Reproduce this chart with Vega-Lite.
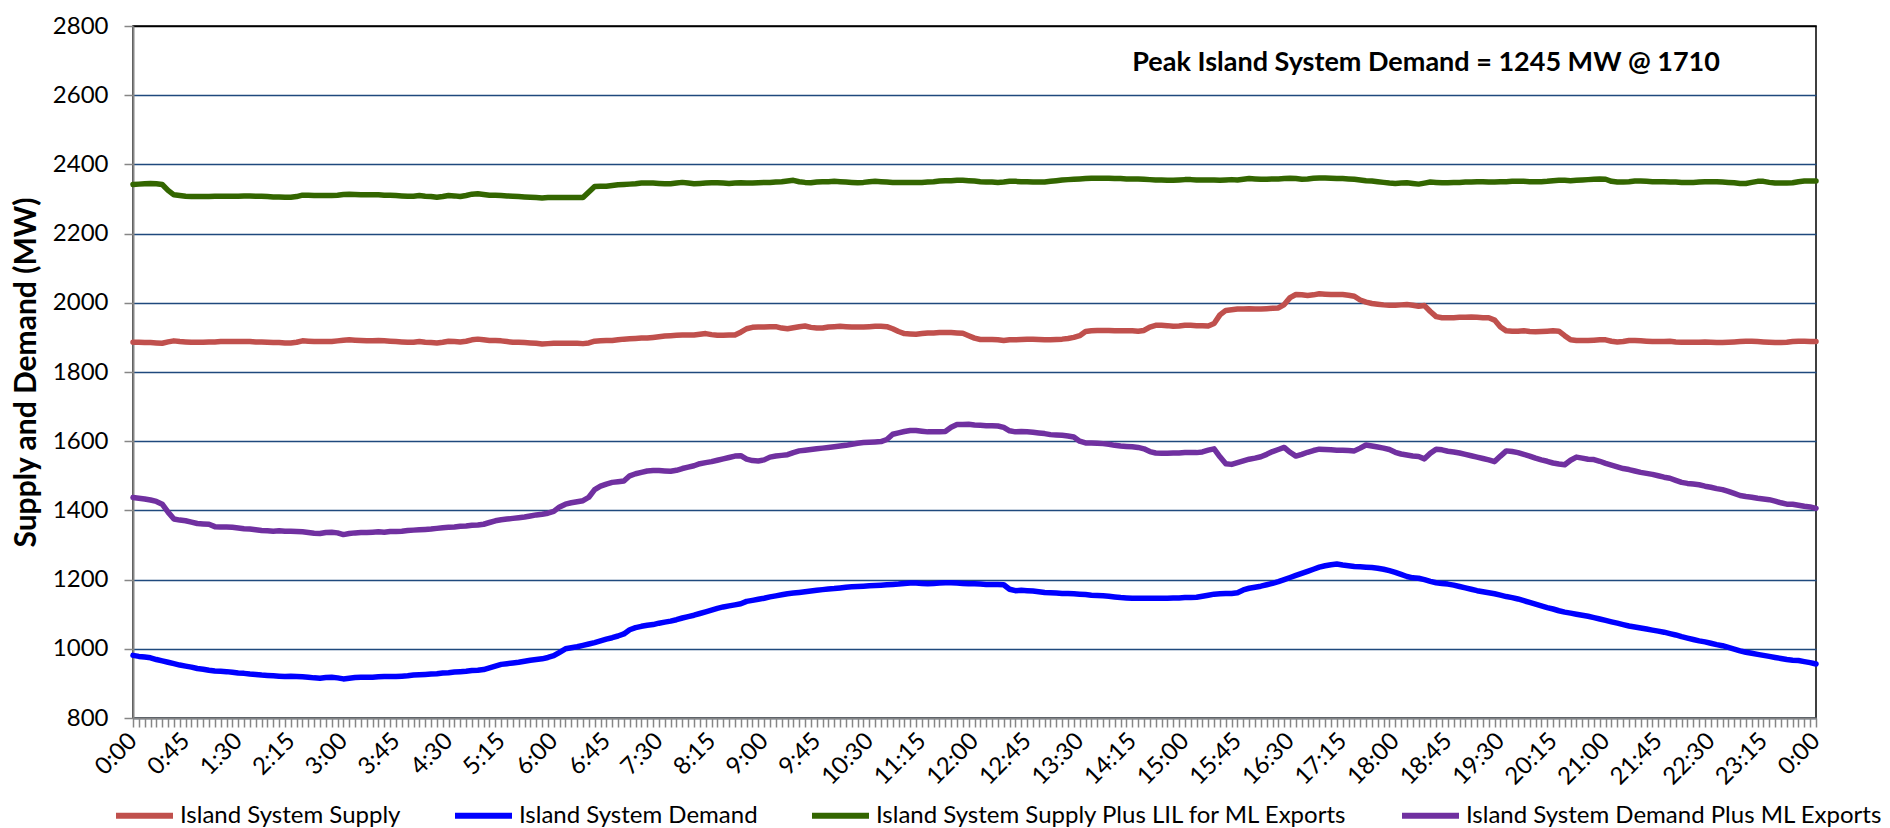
{
  "$schema": "https://vega.github.io/schema/vega-lite/v6.json",
  "width": 1683,
  "height": 692,
  "autosize": "none",
  "padding": {"left": 133, "top": 26, "right": 74, "bottom": 110},
  "background": "white",
  "config": {
    "font": "Lato",
    "view": {"stroke": "#000000", "strokeWidth": 1.5}
  },
  "layer": [
    {
      "data": {"values": [
{"m":0,"s":1886,"d":981,"g":2342,"p":1437},
{"m":5,"s":1886,"d":978,"g":2343,"p":1435},
{"m":10,"s":1885,"d":976,"g":2344,"p":1433},
{"m":15,"s":1885,"d":974,"g":2345,"p":1430},
{"m":20,"s":1884,"d":969,"g":2344,"p":1426},
{"m":25,"s":1883,"d":965,"g":2342,"p":1418},
{"m":30,"s":1887,"d":961,"g":2325,"p":1395},
{"m":35,"s":1890,"d":957,"g":2312,"p":1375},
{"m":40,"s":1888,"d":953,"g":2310,"p":1372},
{"m":45,"s":1887,"d":950,"g":2308,"p":1370},
{"m":50,"s":1886,"d":947,"g":2307,"p":1366},
{"m":55,"s":1886,"d":943,"g":2307,"p":1362},
{"m":60,"s":1886,"d":941,"g":2307,"p":1361},
{"m":65,"s":1887,"d":938,"g":2307,"p":1360},
{"m":70,"s":1887,"d":936,"g":2308,"p":1353},
{"m":75,"s":1888,"d":935,"g":2308,"p":1352},
{"m":80,"s":1888,"d":934,"g":2308,"p":1352},
{"m":85,"s":1888,"d":932,"g":2308,"p":1351},
{"m":90,"s":1888,"d":930,"g":2308,"p":1349},
{"m":95,"s":1888,"d":929,"g":2309,"p":1347},
{"m":100,"s":1888,"d":927,"g":2309,"p":1346},
{"m":105,"s":1887,"d":926,"g":2308,"p":1344},
{"m":110,"s":1887,"d":924,"g":2308,"p":1342},
{"m":115,"s":1886,"d":923,"g":2307,"p":1341},
{"m":120,"s":1885,"d":922,"g":2306,"p":1340},
{"m":125,"s":1885,"d":921,"g":2306,"p":1341},
{"m":130,"s":1884,"d":920,"g":2305,"p":1340},
{"m":135,"s":1884,"d":921,"g":2305,"p":1340},
{"m":140,"s":1886,"d":920,"g":2307,"p":1339},
{"m":145,"s":1890,"d":919,"g":2311,"p":1338},
{"m":150,"s":1889,"d":918,"g":2311,"p":1336},
{"m":155,"s":1888,"d":916,"g":2310,"p":1334},
{"m":160,"s":1888,"d":915,"g":2310,"p":1333},
{"m":165,"s":1888,"d":917,"g":2310,"p":1336},
{"m":170,"s":1888,"d":918,"g":2310,"p":1337},
{"m":175,"s":1890,"d":916,"g":2311,"p":1335},
{"m":180,"s":1892,"d":913,"g":2313,"p":1330},
{"m":185,"s":1893,"d":915,"g":2314,"p":1333},
{"m":190,"s":1892,"d":917,"g":2313,"p":1335},
{"m":195,"s":1891,"d":918,"g":2312,"p":1336},
{"m":200,"s":1890,"d":918,"g":2312,"p":1336},
{"m":205,"s":1890,"d":918,"g":2312,"p":1337},
{"m":210,"s":1891,"d":919,"g":2312,"p":1338},
{"m":215,"s":1890,"d":920,"g":2311,"p":1337},
{"m":220,"s":1889,"d":920,"g":2311,"p":1339},
{"m":225,"s":1888,"d":920,"g":2310,"p":1339},
{"m":230,"s":1887,"d":921,"g":2309,"p":1340},
{"m":235,"s":1886,"d":922,"g":2308,"p":1342},
{"m":240,"s":1886,"d":924,"g":2308,"p":1343},
{"m":245,"s":1888,"d":925,"g":2310,"p":1344},
{"m":250,"s":1886,"d":926,"g":2308,"p":1345},
{"m":255,"s":1885,"d":927,"g":2307,"p":1346},
{"m":260,"s":1884,"d":928,"g":2305,"p":1348},
{"m":265,"s":1886,"d":930,"g":2307,"p":1350},
{"m":270,"s":1889,"d":931,"g":2310,"p":1351},
{"m":275,"s":1888,"d":933,"g":2309,"p":1352},
{"m":280,"s":1887,"d":934,"g":2307,"p":1354},
{"m":285,"s":1889,"d":935,"g":2310,"p":1355},
{"m":290,"s":1893,"d":937,"g":2314,"p":1357},
{"m":295,"s":1895,"d":938,"g":2315,"p":1358},
{"m":300,"s":1893,"d":940,"g":2313,"p":1360},
{"m":305,"s":1891,"d":945,"g":2311,"p":1365},
{"m":310,"s":1891,"d":950,"g":2311,"p":1370},
{"m":315,"s":1890,"d":955,"g":2310,"p":1373},
{"m":320,"s":1888,"d":957,"g":2309,"p":1375},
{"m":325,"s":1886,"d":959,"g":2308,"p":1377},
{"m":330,"s":1886,"d":961,"g":2307,"p":1379},
{"m":335,"s":1885,"d":964,"g":2306,"p":1381},
{"m":340,"s":1884,"d":967,"g":2305,"p":1384},
{"m":345,"s":1883,"d":969,"g":2304,"p":1387},
{"m":350,"s":1881,"d":971,"g":2303,"p":1389},
{"m":355,"s":1882,"d":975,"g":2304,"p":1392},
{"m":360,"s":1883,"d":980,"g":2304,"p":1397},
{"m":365,"s":1883,"d":990,"g":2304,"p":1410},
{"m":370,"s":1883,"d":1000,"g":2304,"p":1418},
{"m":375,"s":1883,"d":1003,"g":2304,"p":1422},
{"m":380,"s":1883,"d":1006,"g":2304,"p":1425},
{"m":385,"s":1882,"d":1010,"g":2304,"p":1428},
{"m":390,"s":1884,"d":1014,"g":2320,"p":1438},
{"m":395,"s":1889,"d":1018,"g":2336,"p":1460},
{"m":400,"s":1890,"d":1023,"g":2337,"p":1470},
{"m":405,"s":1891,"d":1028,"g":2337,"p":1476},
{"m":410,"s":1891,"d":1032,"g":2339,"p":1481},
{"m":415,"s":1893,"d":1037,"g":2341,"p":1483},
{"m":420,"s":1895,"d":1043,"g":2342,"p":1485},
{"m":425,"s":1896,"d":1055,"g":2343,"p":1500},
{"m":430,"s":1897,"d":1061,"g":2344,"p":1506},
{"m":435,"s":1898,"d":1065,"g":2346,"p":1510},
{"m":440,"s":1898,"d":1068,"g":2346,"p":1514},
{"m":445,"s":1900,"d":1070,"g":2346,"p":1515},
{"m":450,"s":1902,"d":1074,"g":2345,"p":1515},
{"m":455,"s":1904,"d":1077,"g":2344,"p":1514},
{"m":460,"s":1905,"d":1080,"g":2344,"p":1513},
{"m":465,"s":1906,"d":1084,"g":2346,"p":1516},
{"m":470,"s":1907,"d":1089,"g":2348,"p":1521},
{"m":475,"s":1907,"d":1093,"g":2346,"p":1525},
{"m":480,"s":1907,"d":1097,"g":2344,"p":1529},
{"m":485,"s":1909,"d":1102,"g":2345,"p":1535},
{"m":490,"s":1911,"d":1107,"g":2346,"p":1538},
{"m":495,"s":1908,"d":1112,"g":2347,"p":1541},
{"m":500,"s":1906,"d":1117,"g":2347,"p":1545},
{"m":505,"s":1906,"d":1121,"g":2346,"p":1549},
{"m":510,"s":1907,"d":1124,"g":2345,"p":1553},
{"m":515,"s":1907,"d":1127,"g":2346,"p":1557},
{"m":520,"s":1915,"d":1130,"g":2347,"p":1558},
{"m":525,"s":1925,"d":1137,"g":2346,"p":1548},
{"m":530,"s":1929,"d":1140,"g":2346,"p":1544},
{"m":535,"s":1930,"d":1143,"g":2347,"p":1543},
{"m":540,"s":1930,"d":1146,"g":2348,"p":1546},
{"m":545,"s":1931,"d":1150,"g":2348,"p":1554},
{"m":550,"s":1931,"d":1153,"g":2349,"p":1557},
{"m":555,"s":1927,"d":1156,"g":2350,"p":1559},
{"m":560,"s":1925,"d":1159,"g":2352,"p":1561},
{"m":565,"s":1928,"d":1161,"g":2354,"p":1567},
{"m":570,"s":1931,"d":1163,"g":2350,"p":1572},
{"m":575,"s":1933,"d":1165,"g":2348,"p":1574},
{"m":580,"s":1929,"d":1167,"g":2347,"p":1576},
{"m":585,"s":1927,"d":1169,"g":2349,"p":1578},
{"m":590,"s":1927,"d":1171,"g":2350,"p":1580},
{"m":595,"s":1930,"d":1173,"g":2350,"p":1582},
{"m":600,"s":1931,"d":1174,"g":2351,"p":1584},
{"m":605,"s":1932,"d":1176,"g":2350,"p":1586},
{"m":610,"s":1931,"d":1178,"g":2349,"p":1588},
{"m":615,"s":1930,"d":1179,"g":2348,"p":1591},
{"m":620,"s":1930,"d":1180,"g":2347,"p":1594},
{"m":625,"s":1930,"d":1181,"g":2348,"p":1596},
{"m":630,"s":1931,"d":1182,"g":2350,"p":1597},
{"m":635,"s":1932,"d":1183,"g":2351,"p":1598},
{"m":640,"s":1932,"d":1184,"g":2350,"p":1599},
{"m":645,"s":1931,"d":1185,"g":2349,"p":1605},
{"m":650,"s":1925,"d":1186,"g":2348,"p":1620},
{"m":655,"s":1917,"d":1187,"g":2348,"p":1624},
{"m":660,"s":1911,"d":1189,"g":2348,"p":1628},
{"m":665,"s":1910,"d":1190,"g":2348,"p":1631},
{"m":670,"s":1909,"d":1190,"g":2348,"p":1631},
{"m":675,"s":1911,"d":1189,"g":2348,"p":1629},
{"m":680,"s":1913,"d":1188,"g":2349,"p":1627},
{"m":685,"s":1913,"d":1189,"g":2350,"p":1627},
{"m":690,"s":1914,"d":1190,"g":2352,"p":1627},
{"m":695,"s":1914,"d":1191,"g":2353,"p":1628},
{"m":700,"s":1914,"d":1191,"g":2353,"p":1640},
{"m":705,"s":1913,"d":1190,"g":2354,"p":1648},
{"m":710,"s":1912,"d":1189,"g":2354,"p":1648},
{"m":715,"s":1905,"d":1188,"g":2353,"p":1649},
{"m":720,"s":1898,"d":1188,"g":2352,"p":1647},
{"m":725,"s":1894,"d":1187,"g":2350,"p":1646},
{"m":730,"s":1894,"d":1186,"g":2349,"p":1645},
{"m":735,"s":1894,"d":1186,"g":2349,"p":1645},
{"m":740,"s":1893,"d":1186,"g":2348,"p":1644},
{"m":745,"s":1891,"d":1185,"g":2349,"p":1640},
{"m":750,"s":1893,"d":1172,"g":2351,"p":1630},
{"m":755,"s":1893,"d":1168,"g":2351,"p":1627},
{"m":760,"s":1894,"d":1169,"g":2350,"p":1628},
{"m":765,"s":1895,"d":1168,"g":2350,"p":1627},
{"m":770,"s":1895,"d":1167,"g":2349,"p":1626},
{"m":775,"s":1894,"d":1165,"g":2349,"p":1624},
{"m":780,"s":1893,"d":1163,"g":2349,"p":1622},
{"m":785,"s":1893,"d":1162,"g":2351,"p":1619},
{"m":790,"s":1894,"d":1161,"g":2353,"p":1618},
{"m":795,"s":1895,"d":1160,"g":2355,"p":1617},
{"m":800,"s":1897,"d":1160,"g":2356,"p":1615},
{"m":805,"s":1900,"d":1159,"g":2357,"p":1612},
{"m":810,"s":1905,"d":1158,"g":2358,"p":1600},
{"m":815,"s":1917,"d":1157,"g":2359,"p":1595},
{"m":820,"s":1919,"d":1155,"g":2360,"p":1595},
{"m":825,"s":1920,"d":1154,"g":2360,"p":1594},
{"m":830,"s":1920,"d":1153,"g":2360,"p":1593},
{"m":835,"s":1920,"d":1152,"g":2360,"p":1591},
{"m":840,"s":1919,"d":1150,"g":2359,"p":1588},
{"m":845,"s":1919,"d":1148,"g":2359,"p":1586},
{"m":850,"s":1919,"d":1147,"g":2358,"p":1585},
{"m":855,"s":1919,"d":1146,"g":2358,"p":1584},
{"m":860,"s":1918,"d":1146,"g":2358,"p":1582},
{"m":865,"s":1920,"d":1146,"g":2357,"p":1578},
{"m":870,"s":1930,"d":1146,"g":2356,"p":1570},
{"m":875,"s":1935,"d":1146,"g":2355,"p":1566},
{"m":880,"s":1935,"d":1146,"g":2355,"p":1565},
{"m":885,"s":1934,"d":1146,"g":2354,"p":1565},
{"m":890,"s":1932,"d":1147,"g":2354,"p":1566},
{"m":895,"s":1933,"d":1147,"g":2355,"p":1566},
{"m":900,"s":1935,"d":1148,"g":2356,"p":1567},
{"m":905,"s":1935,"d":1148,"g":2356,"p":1567},
{"m":910,"s":1934,"d":1149,"g":2355,"p":1567},
{"m":915,"s":1934,"d":1152,"g":2355,"p":1569},
{"m":920,"s":1933,"d":1155,"g":2355,"p":1574},
{"m":925,"s":1940,"d":1158,"g":2355,"p":1578},
{"m":930,"s":1965,"d":1159,"g":2354,"p":1555},
{"m":935,"s":1978,"d":1160,"g":2355,"p":1535},
{"m":940,"s":1980,"d":1160,"g":2356,"p":1533},
{"m":945,"s":1982,"d":1162,"g":2355,"p":1538},
{"m":950,"s":1982,"d":1170,"g":2357,"p":1543},
{"m":955,"s":1983,"d":1175,"g":2359,"p":1548},
{"m":960,"s":1982,"d":1178,"g":2358,"p":1551},
{"m":965,"s":1982,"d":1181,"g":2357,"p":1555},
{"m":970,"s":1983,"d":1185,"g":2357,"p":1562},
{"m":975,"s":1984,"d":1189,"g":2358,"p":1570},
{"m":980,"s":1985,"d":1194,"g":2358,"p":1576},
{"m":985,"s":1995,"d":1200,"g":2359,"p":1582},
{"m":990,"s":2015,"d":1206,"g":2360,"p":1568},
{"m":995,"s":2024,"d":1212,"g":2359,"p":1557},
{"m":1000,"s":2023,"d":1218,"g":2357,"p":1562},
{"m":1005,"s":2021,"d":1224,"g":2358,"p":1568},
{"m":1010,"s":2023,"d":1230,"g":2360,"p":1573},
{"m":1015,"s":2026,"d":1236,"g":2361,"p":1577},
{"m":1020,"s":2025,"d":1240,"g":2361,"p":1576},
{"m":1025,"s":2024,"d":1243,"g":2360,"p":1575},
{"m":1030,"s":2024,"d":1245,"g":2359,"p":1574},
{"m":1035,"s":2024,"d":1242,"g":2359,"p":1574},
{"m":1040,"s":2022,"d":1240,"g":2358,"p":1573},
{"m":1045,"s":2019,"d":1238,"g":2357,"p":1572},
{"m":1050,"s":2008,"d":1237,"g":2355,"p":1580},
{"m":1055,"s":2002,"d":1236,"g":2353,"p":1589},
{"m":1060,"s":1998,"d":1235,"g":2352,"p":1586},
{"m":1065,"s":1996,"d":1233,"g":2350,"p":1583},
{"m":1070,"s":1994,"d":1230,"g":2348,"p":1580},
{"m":1075,"s":1993,"d":1226,"g":2346,"p":1576},
{"m":1080,"s":1993,"d":1221,"g":2345,"p":1568},
{"m":1085,"s":1994,"d":1215,"g":2346,"p":1563},
{"m":1090,"s":1995,"d":1209,"g":2347,"p":1560},
{"m":1095,"s":1993,"d":1205,"g":2345,"p":1557},
{"m":1100,"s":1990,"d":1204,"g":2343,"p":1556},
{"m":1105,"s":1992,"d":1200,"g":2346,"p":1549},
{"m":1110,"s":1975,"d":1195,"g":2349,"p":1565},
{"m":1115,"s":1960,"d":1191,"g":2348,"p":1577},
{"m":1120,"s":1957,"d":1189,"g":2347,"p":1575},
{"m":1125,"s":1957,"d":1187,"g":2347,"p":1571},
{"m":1130,"s":1957,"d":1184,"g":2348,"p":1569},
{"m":1135,"s":1958,"d":1180,"g":2348,"p":1566},
{"m":1140,"s":1958,"d":1176,"g":2349,"p":1562},
{"m":1145,"s":1959,"d":1172,"g":2349,"p":1558},
{"m":1150,"s":1958,"d":1168,"g":2350,"p":1554},
{"m":1155,"s":1957,"d":1165,"g":2350,"p":1550},
{"m":1160,"s":1957,"d":1162,"g":2349,"p":1546},
{"m":1165,"s":1950,"d":1159,"g":2349,"p":1541},
{"m":1170,"s":1930,"d":1155,"g":2350,"p":1557},
{"m":1175,"s":1919,"d":1151,"g":2350,"p":1572},
{"m":1180,"s":1918,"d":1148,"g":2351,"p":1570},
{"m":1185,"s":1918,"d":1144,"g":2351,"p":1567},
{"m":1190,"s":1919,"d":1139,"g":2351,"p":1562},
{"m":1195,"s":1917,"d":1134,"g":2350,"p":1557},
{"m":1200,"s":1916,"d":1129,"g":2350,"p":1551},
{"m":1205,"s":1917,"d":1124,"g":2350,"p":1546},
{"m":1210,"s":1918,"d":1119,"g":2351,"p":1542},
{"m":1215,"s":1919,"d":1115,"g":2353,"p":1537},
{"m":1220,"s":1918,"d":1110,"g":2354,"p":1534},
{"m":1225,"s":1905,"d":1106,"g":2354,"p":1532},
{"m":1230,"s":1893,"d":1103,"g":2353,"p":1545},
{"m":1235,"s":1891,"d":1100,"g":2354,"p":1554},
{"m":1240,"s":1891,"d":1097,"g":2355,"p":1551},
{"m":1245,"s":1891,"d":1094,"g":2356,"p":1548},
{"m":1250,"s":1892,"d":1090,"g":2357,"p":1547},
{"m":1255,"s":1893,"d":1086,"g":2358,"p":1542},
{"m":1260,"s":1893,"d":1082,"g":2357,"p":1536},
{"m":1265,"s":1889,"d":1078,"g":2351,"p":1531},
{"m":1270,"s":1887,"d":1074,"g":2349,"p":1526},
{"m":1275,"s":1888,"d":1070,"g":2349,"p":1521},
{"m":1280,"s":1891,"d":1066,"g":2350,"p":1518},
{"m":1285,"s":1891,"d":1063,"g":2352,"p":1514},
{"m":1290,"s":1890,"d":1060,"g":2352,"p":1510},
{"m":1295,"s":1889,"d":1057,"g":2351,"p":1507},
{"m":1300,"s":1888,"d":1054,"g":2350,"p":1504},
{"m":1305,"s":1888,"d":1051,"g":2350,"p":1500},
{"m":1310,"s":1888,"d":1048,"g":2350,"p":1496},
{"m":1315,"s":1889,"d":1044,"g":2349,"p":1493},
{"m":1320,"s":1887,"d":1040,"g":2349,"p":1487},
{"m":1325,"s":1886,"d":1035,"g":2348,"p":1481},
{"m":1330,"s":1886,"d":1031,"g":2348,"p":1478},
{"m":1335,"s":1886,"d":1027,"g":2348,"p":1476},
{"m":1340,"s":1886,"d":1023,"g":2349,"p":1474},
{"m":1345,"s":1887,"d":1020,"g":2350,"p":1470},
{"m":1350,"s":1886,"d":1016,"g":2350,"p":1467},
{"m":1355,"s":1885,"d":1012,"g":2350,"p":1463},
{"m":1360,"s":1885,"d":1009,"g":2349,"p":1460},
{"m":1365,"s":1886,"d":1004,"g":2348,"p":1455},
{"m":1370,"s":1887,"d":999,"g":2347,"p":1449},
{"m":1375,"s":1888,"d":994,"g":2345,"p":1443},
{"m":1380,"s":1889,"d":990,"g":2345,"p":1440},
{"m":1385,"s":1889,"d":987,"g":2348,"p":1438},
{"m":1390,"s":1888,"d":984,"g":2351,"p":1435},
{"m":1395,"s":1887,"d":981,"g":2351,"p":1433},
{"m":1400,"s":1886,"d":978,"g":2348,"p":1431},
{"m":1405,"s":1885,"d":975,"g":2346,"p":1427},
{"m":1410,"s":1885,"d":972,"g":2346,"p":1422},
{"m":1415,"s":1886,"d":969,"g":2346,"p":1418},
{"m":1420,"s":1888,"d":967,"g":2347,"p":1418},
{"m":1425,"s":1889,"d":966,"g":2350,"p":1415},
{"m":1430,"s":1889,"d":963,"g":2352,"p":1412},
{"m":1435,"s":1888,"d":960,"g":2352,"p":1410},
{"m":1440,"s":1888,"d":956,"g":2352,"p":1406}
      ]},
      "transform": [{"fold": ["s", "d", "g", "p"], "as": ["series", "mw"]}],
      "mark": {"type": "line", "strokeWidth": 5.5, "strokeJoin": "round", "strokeCap": "round"},
      "encoding": {
        "x": {
          "field": "m", "type": "quantitative",
          "scale": {"domain": [0, 1440], "nice": false, "zero": false},
          "axis": {
            "title": null,
            "tickCount": 288,
            "grid": false,
            "labelExpr": "datum.value % 45 == 0 ? (floor(datum.value / 60) % 24) + ':' + (datum.value % 60 < 10 ? '0' : '') + (datum.value % 60) : ''",
            "labelAngle": -45,
            "labelAlign": "right",
            "labelBaseline": "middle",
            "labelFontSize": 24,
            "labelColor": "#000000",
            "labelPadding": 10,
            "labelOverlap": false,
            "labelFlush": false,
            "labelBound": false,
            "domainColor": "#868686",
            "domainWidth": 2,
            "tickColor": "#868686",
            "tickSize": 9,
            "tickWidth": 1.5
          }
        },
        "y": {
          "field": "mw", "type": "quantitative",
          "scale": {"domain": [800, 2800], "nice": false, "zero": false},
          "axis": {
            "title": "Supply and Demand (MW)",
            "titleFontSize": 30,
            "titleFontWeight": "bold",
            "titleColor": "#000000",
            "titlePadding": 11,
            "tickCount": 10,
            "format": "d",
            "grid": true,
            "gridColor": {"condition": {"test": "datum.value == 2800", "value": "#000000"}, "value": "#1F497D"},
            "gridWidth": 1.5,
            "labelFontSize": 24,
            "labelColor": "#000000",
            "labelPadding": 16,
            "labelFlush": false,
            "domainColor": "#868686",
            "domainWidth": 2,
            "tickColor": "#868686",
            "tickSize": 9,
            "tickWidth": 1.5
          }
        },
        "color": {
          "field": "series", "type": "nominal",
          "scale": {"domain": ["s", "d", "g", "p"], "range": ["#C0504D", "#0000FF", "#336600", "#7030A0"]},
          "legend": {
            "title": null,
            "orient": "none",
            "direction": "horizontal",
            "legendX": -20,
            "legendY": 758,
            "symbolType": "stroke",
            "symbolSize": 3249,
            "symbolStrokeWidth": 6,
            "labelFontSize": 24,
            "labelColor": "#000000",
            "labelOffset": 4,
            "labelLimit": 700,
            "columnPadding": 42,
            "labelExpr": "datum.label == 's' ? 'Island System Supply' : datum.label == 'd' ? 'Island System Demand' : datum.label == 'g' ? 'Island System Supply Plus LIL for ML Exports' : 'Island System Demand Plus ML Exports'"
          }
        }
      }
    },
    {
      "data": {"values": [{"m": 855, "v": 2692, "label": "Peak Island System Demand = 1245 MW @ 1710"}]},
      "mark": {"type": "text", "align": "left", "baseline": "middle", "fontWeight": "bold", "fontSize": 27, "color": "#000000"},
      "encoding": {
        "x": {"field": "m", "type": "quantitative"},
        "y": {"field": "v", "type": "quantitative"},
        "text": {"field": "label"}
      }
    }
  ]
}
